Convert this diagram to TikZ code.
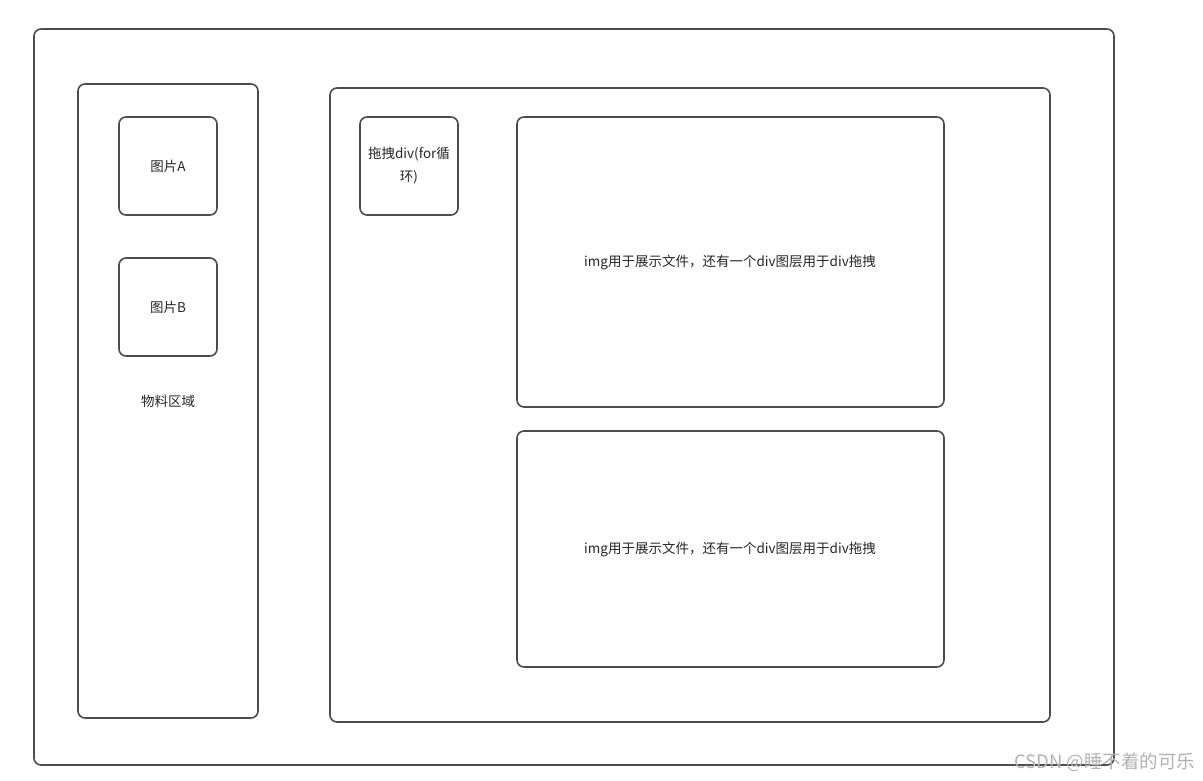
\documentclass[tikz,border=0pt]{standalone}
\usepackage{fontspec}
\setmainfont{Noto Sans CJK SC}
\begin{document}
\begin{tikzpicture}[x=1pt,y=-1pt,
  box/.style={draw=black!70,line width=1.6pt,rounded corners=7pt},
  lbl/.style={font=\fontsize{13.5}{23}\selectfont,text=black!85,align=center}]
\useasboundingbox (0,0) rectangle (1203,781);
\draw[box] (34,29) rectangle (1114,765);
\draw[box] (78,84) rectangle (258,718);
\draw[box] (119,117) rectangle (217,215);
\node[lbl] (a) at (168,166) {图片A};
\draw[box] (119,258) rectangle (217,356);
\node[lbl] (b) at (168,307) {图片B};
\node[lbl] (m) at (168,401) {物料区域};
\draw[box] (330,88) rectangle (1050,722);
\draw[box] (360,117) rectangle (458,215);
\node[lbl] (d) at (409,166) {拖拽div(for循\\环)};
\draw[box] (517,117) rectangle (944,407);
\node[lbl] (i1) at (730,262) {img用于展示文件，还有一个div图层用于div拖拽};
\draw[box] (517,431) rectangle (944,667);
\node[lbl] (i2) at (730,549) {img用于展示文件，还有一个div图层用于div拖拽};
\node[font=\fontsize{18.5}{20}\selectfont,text=black!30,anchor=east] (w) at (1199,762) {CSDN @睡不着的可乐};
\end{tikzpicture}
\end{document}
